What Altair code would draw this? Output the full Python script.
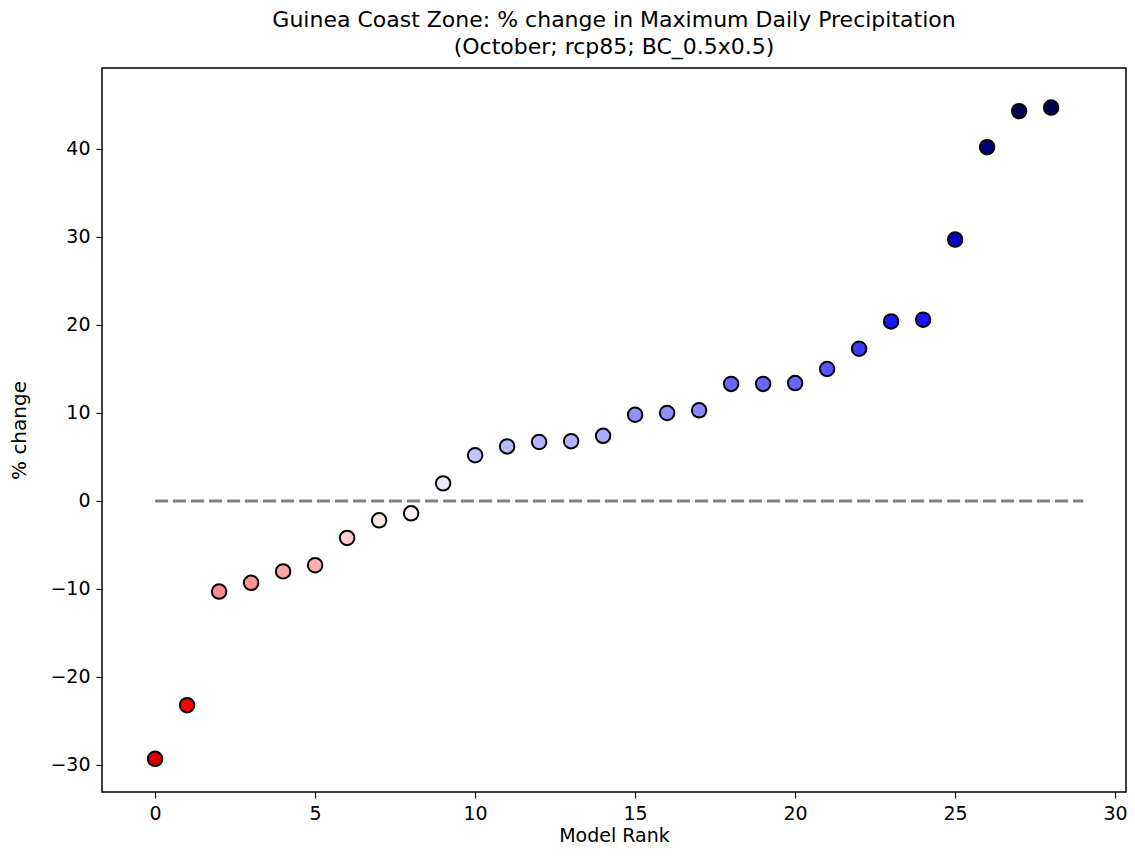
import altair as alt
import pandas as pd

rank = list(range(29))
pct_change = [-29.3, -23.2, -10.3, -9.3, -8.0, -7.3, -4.2, -2.2, -1.4, 2.0,
              5.2, 6.2, 6.7, 6.8, 7.4, 9.8, 10.0, 10.3, 13.3, 13.3,
              13.4, 15.0, 17.3, 20.4, 20.6, 29.7, 40.2, 44.3, 44.7]

color_domain = [-45, -22.5, 0, 22.5, 45]
color_range = ["#800000", "#ff0000", "#ffffff", "#0000ff", "#00004d"]

zero_line_x = [0, 29]

df = pd.DataFrame({"rank": rank, "pct": pct_change})
zero_df = pd.DataFrame({"x": zero_line_x, "y": [0, 0]})

FONT = "DejaVu Sans"

xscale = alt.Scale(domain=[-1.66, 30.34], nice=False, zero=False)
yscale = alt.Scale(domain=[-33.07, 49.2], nice=False, zero=False)

xaxis = alt.Axis(values=[0, 5, 10, 15, 20, 25, 30], title="Model Rank", grid=False,
                 domain=False, ticks=True, tickColor="black", tickSize=6, tickWidth=1.2,
                 labelFont=FONT, labelFontSize=19, labelColor="black", labelPadding=6,
                 titleFont=FONT, titleFontSize=19, titleFontWeight="normal", titleColor="black",
                 titlePadding=3, labelFlush=False)
yaxis = alt.Axis(values=[-30, -20, -10, 0, 10, 20, 30, 40], title="% change", grid=False,
                 domain=False, ticks=True, tickColor="black", tickSize=6, tickWidth=1.2,
                 labelFont=FONT, labelFontSize=19, labelColor="black", labelPadding=6,
                 labelExpr="replace(datum.label, '-', '\u2212')",
                 titleFont=FONT, titleFontSize=20, titleFontWeight="normal", titleColor="black",
                 titlePadding=20, labelFlush=False)

line = alt.Chart(zero_df).mark_line(color="#808080", strokeWidth=3, strokeDash=[13, 5]).encode(
    x=alt.X("x:Q", scale=xscale, axis=xaxis),
    y=alt.Y("y:Q", scale=yscale, axis=yaxis),
)

points = alt.Chart(df).mark_point(filled=True, shape="circle", size=210, stroke="black",
                                  strokeWidth=2, opacity=1, fillOpacity=1).encode(
    x=alt.X("rank:Q", scale=xscale, axis=xaxis),
    y=alt.Y("pct:Q", scale=yscale, axis=yaxis),
    fill=alt.Fill("pct:Q", scale=alt.Scale(domain=color_domain, range=color_range,
                                            interpolate="rgb"), legend=None),
)

chart = alt.layer(line, points).properties(
    width=1024,
    height=724,
    title=alt.TitleParams(
        text=["Guinea Coast Zone: % change in Maximum Daily Precipitation",
              "(October; rcp85; BC_0.5x0.5)"],
        font=FONT, fontSize=22, fontWeight="normal", color="black",
        anchor="middle", lineHeight=27, offset=9,
    ),
    autosize=alt.AutoSizeParams(type="none"),
    padding={"left": 94, "top": 60, "right": 1, "bottom": 56},
).configure(background="white").configure_view(stroke="black", strokeWidth=1.5)

chart.save("out.html", embed_options={"renderer": "svg", "actions": False})
